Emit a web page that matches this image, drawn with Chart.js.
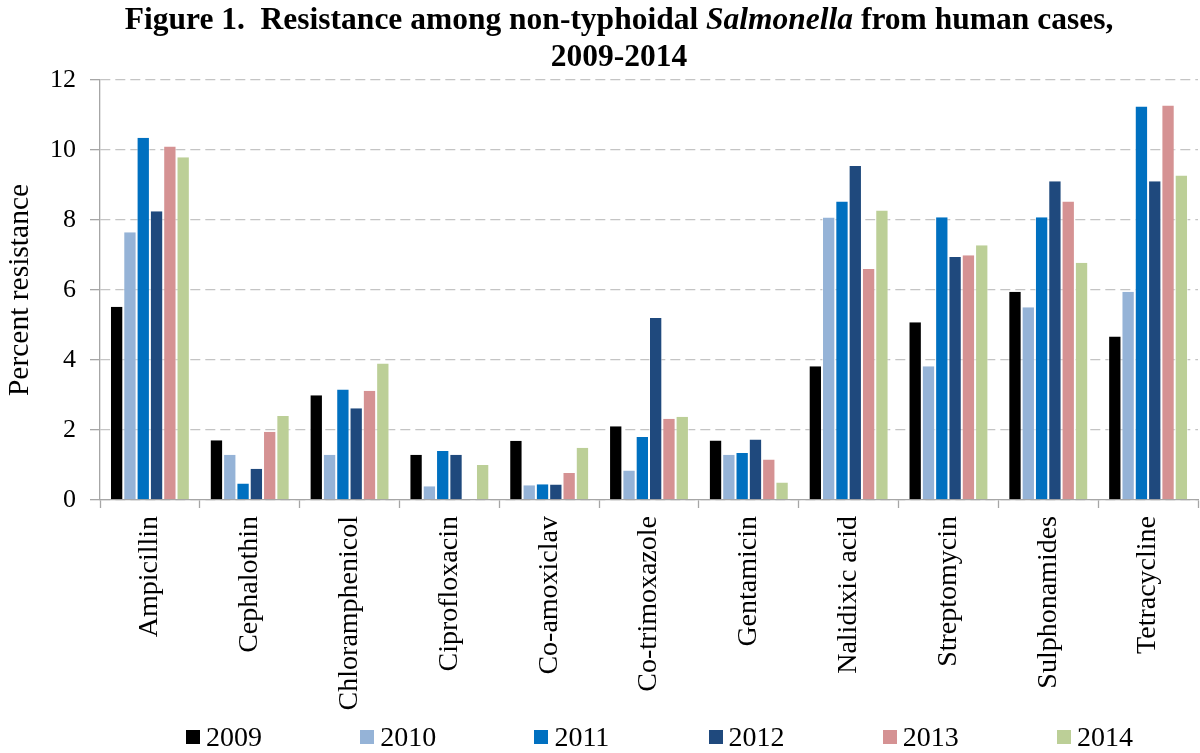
<!DOCTYPE html>
<html>
<head>
<meta charset="utf-8">
<script src="https://cdn.jsdelivr.net/npm/chart.js@4.4.1/dist/chart.umd.min.js"></script>
<style>
  html, body { margin: 0; padding: 0; background: #fff; }
  #wrap { position: relative; width: 1200px; height: 753px; }
  #title {
    position: absolute; left: 69px; top: 0px; width: 1100px;
    text-align: center; font: bold 31.5px/37px 'Liberation Serif', 'Times New Roman', serif; color: #000;
  }
  #legend { position: absolute; left: 0; top: 723px; width: 1200px; height: 28px; }
  #legend .item {
    position: absolute; top: 0; display: flex; align-items: center;
    font: 28px/28px 'Liberation Serif', 'Times New Roman', serif; color: #000;
  }
  #legend .box { width: 14px; height: 14px; margin-right: 6px; }
</style>
</head>
<body>
<div id="wrap">
  <canvas id="chart"></canvas>
  <div id="title">Figure 1.&nbsp; Resistance among non-typhoidal <i>Salmonella</i> from human cases,<br>2009-2014</div>
  <div id="legend"></div>
</div>
<script>
// --- data (percent resistance) ---
const drugs = ['Ampicillin', 'Cephalothin', 'Chloramphenicol', 'Ciprofloxacin', 'Co-amoxiclav',
  'Co-trimoxazole', 'Gentamicin', 'Nalidixic acid', 'Streptomycin', 'Sulphonamides', 'Tetracycline'];
const years = ['2009', '2010', '2011', '2012', '2013', '2014'];
const colors = ['#000000', '#95b3d7', '#0070c0', '#1f497d', '#d59293', '#bccf97'];

const r2009 = [5.52, 1.71, 2.99, 1.29, 1.69, 2.11, 1.70, 3.82, 5.08, 5.95, 4.67];
const r2010 = [7.65, 1.29, 1.29, 0.39, 0.42, 0.84, 1.29, 8.07, 3.82, 5.51, 5.95];
const r2011 = [10.35, 0.47, 3.16, 1.40, 0.45, 1.80, 1.34, 8.53, 8.08, 8.08, 11.24];
const r2012 = [8.25, 0.89, 2.62, 1.29, 0.44, 5.20, 1.73, 9.54, 6.94, 9.11, 9.11];
const r2013 = [10.10, 1.95, 3.12, 0, 0.77, 2.32, 1.16, 6.60, 6.99, 8.53, 11.27];
const r2014 = [9.79, 2.40, 3.90, 1.00, 1.49, 2.38, 0.50, 8.27, 7.28, 6.78, 9.27];
const series = [r2009, r2010, r2011, r2012, r2013, r2014];

const yTicks = [0, 2, 4, 6, 8, 10, 12];

const SERIF = "'Liberation Serif', 'Times New Roman', serif";
const AXIS = '#a6a6a6';

new Chart(document.getElementById('chart'), {
  type: 'bar',
  data: {
    labels: drugs,
    datasets: series.map((data, i) => ({
      label: years[i],
      data,
      backgroundColor: colors[i],
      borderColor: 'rgba(255,255,255,0.6)',
      borderWidth: { top: 0, left: 1, right: 1, bottom: 0 },
      categoryPercentage: 0.8,
      barPercentage: 1.0,
    })),
  },
  options: {
    responsive: true,
    maintainAspectRatio: false,
    animation: false,
    layout: { padding: { top: 80, right: 2, bottom: 0, left: 0 } },
    plugins: {
      legend: { display: false },
      tooltip: { enabled: false },
    },
    scales: {
      x: {
        grid: { drawOnChartArea: false, drawTicks: true, tickLength: 8, tickColor: AXIS, tickWidth: 1.3, offset: true },
        border: { color: AXIS, width: 1.3 },
        ticks: {
          autoSkip: false, minRotation: 90, maxRotation: 90, padding: 8,
          color: '#000', font: { family: SERIF, size: 28 },
        },
        afterFit(scale) { scale.height = 253; },
      },
      y: {
        min: 0,
        max: 12,
        afterBuildTicks(scale) { scale.ticks = yTicks.map(v => ({ value: v })); },
        grid: { color: '#c4c4c4', lineWidth: 1.3, tickColor: AXIS, tickLength: 10, tickBorderDash: [] },
        border: { color: AXIS, width: 1.3, dash: [10, 5] },
        ticks: { padding: 14, color: '#000', font: { family: SERIF, size: 26 } },
        title: {
          display: true, text: 'Percent resistance', color: '#000',
          font: { family: SERIF, size: 29.5 }, padding: { top: 3, bottom: 0 },
        },
        afterFit(scale) { scale.width = 100; },
      },
    },
  },
});

// --- legend (spaced like the original figure) ---
const legend = document.getElementById('legend');
years.forEach((yr, i) => {
  const item = document.createElement('div');
  item.className = 'item';
  item.style.left = (186 + i * 174.2) + 'px';
  item.innerHTML = '<span class="box" style="background:' + colors[i] + '"></span>' + yr;
  legend.appendChild(item);
});
</script>
</body>
</html>
